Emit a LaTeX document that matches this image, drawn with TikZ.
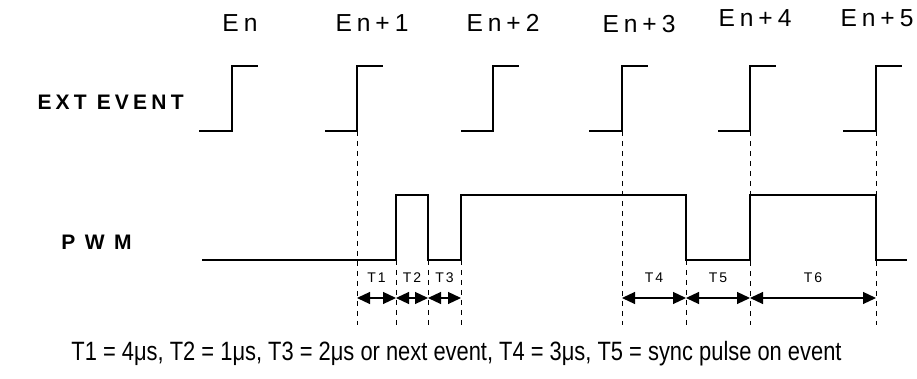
\documentclass[tikz,border=0pt]{standalone}
\usepackage{fontspec}
\setmainfont{Liberation Sans}
\newfontfamily\evfont[LetterSpace=20]{Liberation Sans}
\newfontfamily\sigfont[LetterSpace=20]{Liberation Sans}
\newfontfamily\pwmfont[LetterSpace=45]{Liberation Sans}
\newfontfamily\spanfont[LetterSpace=15]{Liberation Sans}
\newfontfamily\capfont[FakeStretch=0.826]{Liberation Sans}
\usetikzlibrary{arrows.meta,calc}

\begin{document}
\begin{tikzpicture}[
  x=0.5pt, y=-0.5pt,
  wave/.style={line width=0.6pt},
  guide/.style={line width=0.5pt, dash pattern=on 2.5pt off 2.5pt},
  span/.style={line width=0.6pt, {Triangle[length=6.5pt,width=6pt]}-{Triangle[length=6.5pt,width=6pt]}},
  evlabel/.style={anchor=base, inner sep=0pt, font=\evfont\fontsize{12.3}{14}\selectfont},
  siglabel/.style={anchor=base east, inner sep=0pt, font=\bfseries\fontsize{10.5}{12}\selectfont},
  tlabel/.style={anchor=base, inner sep=0pt, font=\spanfont\fontsize{7}{8}\selectfont},
  notelabel/.style={anchor=base east, inner sep=0pt, font=\capfont\fontsize{13.25}{15}\selectfont}
]
\useasboundingbox (0,0) rectangle (917,379);

% ----- signal levels
\def\EvLo{131} \def\EvHi{66}
\def\PwLo{260} \def\PwHi{195}
\def\ArY{298} \def\GdEnd{325}

% ----- event labels
\node[evlabel] (en0) at (240,32) {En};
\node[evlabel] (en1) at (372,32) {En+1};
\node[evlabel] (en2) at (503,32) {En+2};
\node[evlabel] (en3) at (639,33) {En+3};
\node[evlabel] (en4) at (755,27) {En+4};
\node[evlabel] (en5) at (877,27) {En+5};

% ----- signal names
\node[siglabel] (ext) at (184,110) {\sigfont EXT EVENT};
\node[siglabel] (pwm) at (132,250) {\pwmfont PWM};

% ----- external event steps
\foreach \lo/\up in {199/232,325/357,461/493,589/622,718/750,843/876}
  \draw[wave] (\lo,\EvLo) -- (\up,\EvLo) -- (\up,\EvHi) -- ++(26,0);

% ----- PWM output
\draw[wave] (202,\PwLo) -| (396,\PwHi) -| (428,\PwLo) -| (461,\PwHi)
  -| (686,\PwLo) -| (750,\PwHi) -| (876,\PwLo) -- (907,\PwLo);

% ----- dashed guides (events, then PWM edges)
\foreach \x in {357,622,750,876}
  \draw[guide] (\x,\EvLo) -- (\x,\GdEnd);
\foreach \x in {396,428,461,686}
  \draw[guide] (\x,\PwLo) -- (\x,\GdEnd);

% ----- timing spans
\foreach \x [count=\i] in {357,396,428,461,622,686,750,876}
  \coordinate (m\i) at (\x,\ArY);
\foreach \a/\b/\t in {1/2/T1,2/3/T2,3/4/T3,5/6/T4,6/7/T5,7/8/T6} {
  \draw[span] (m\a) -- (m\b);
  \node[tlabel] (lab\t) at ($(m\a)!0.5!(m\b)+(0,-15)$) {\t};
}

% ----- footnote
\node[notelabel] (note) at (842,361)
  {T1 = 4μs, T2 = 1μs, T3 = 2μs or next event, T4 = 3μs, T5 = sync pulse on event};

\end{tikzpicture}
\end{document}
